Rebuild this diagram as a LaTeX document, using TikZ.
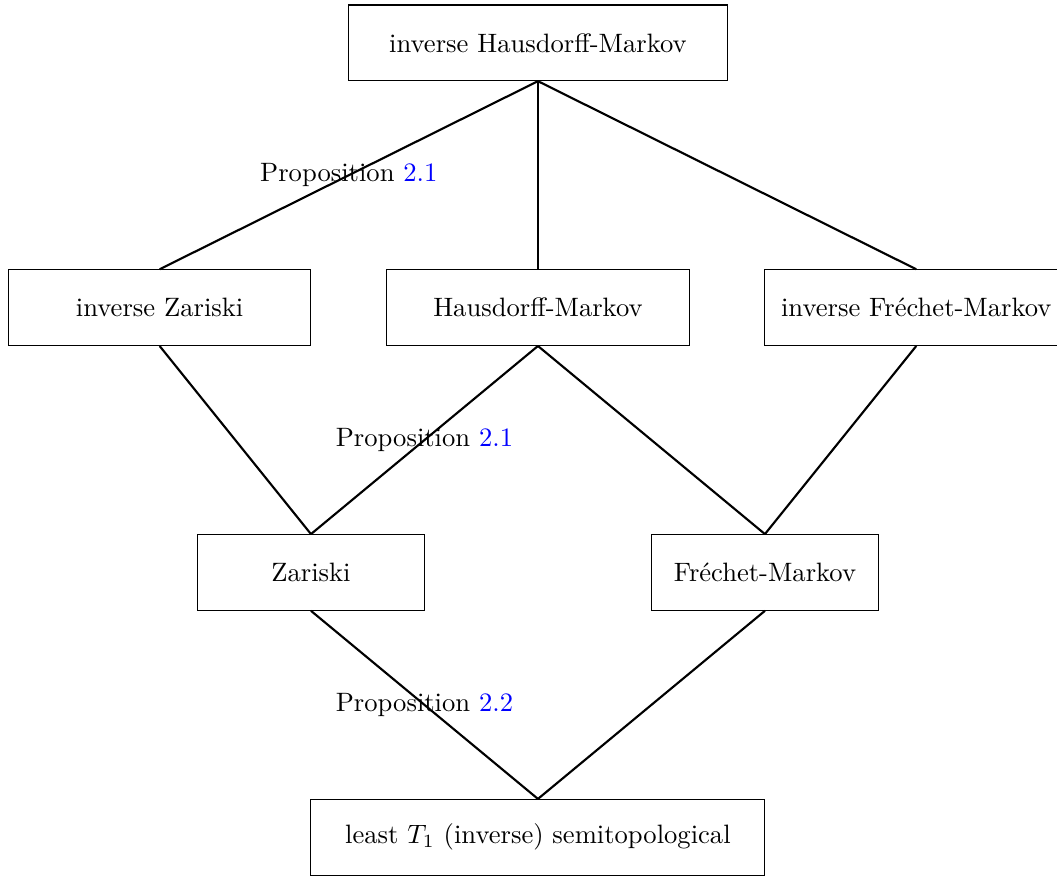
\documentclass[tikz,border=0pt]{standalone}
\usepackage{amsmath}
\usepackage{amssymb}
\usepackage{xcolor}

\begin{document}
\begin{tikzpicture}[
        box/.style={draw, rectangle, minimum height=1cm},
        link/.style={thick}
    ]

        \useasboundingbox (-7.11, 0.566) rectangle (6.86, -11.0);

        \node[box, minimum width=5cm] (iHM) at (0, 0) {inverse Hausdorff-Markov};
        \node[box, minimum width=4cm] (iZ) at (-5, -3.5) {inverse Zariski};
        \node[box, minimum width=4cm] (HM) at (0, -3.5) {Hausdorff-Markov};
        \node[box, minimum width=4cm] (iFM) at (5, -3.5) {inverse Fréchet-Markov};
        \node[box, minimum width=3cm] (Z) at (-3, -7) {Zariski};
        \node[box, minimum width=3cm] (FM) at (3, -7) {Fréchet-Markov};
        \node[box, minimum width=6cm] (T1) at (0, -10.5) {least $T_1$ (inverse) semitopological};

        \draw[link] (iHM.south) -- node {Proposition \textcolor{blue}{2.1}} (iZ.north);
        \draw[link] (iHM.south) -- (HM.north);
        \draw[link] (iHM.south) -- (iFM.north);
        \draw[link] (iZ.south) -- (Z.north);
        \draw[link] (HM.south) -- node {Proposition \textcolor{blue}{2.1}} (Z.north);
        \draw[link] (HM.south) -- (FM.north);
        \draw[link] (iFM.south) -- (FM.north);
        \draw[link] (Z.south) -- node {Proposition \textcolor{blue}{2.2}} (T1.north);
        \draw[link] (FM.south) -- (T1.north);

    \end{tikzpicture}
\end{document}
